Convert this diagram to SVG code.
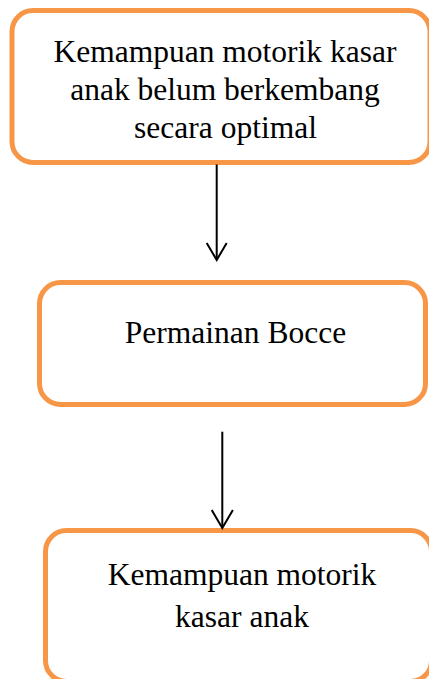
<svg xmlns="http://www.w3.org/2000/svg" width="429" height="679" viewBox="0 0 429 679">
<style>
.box{fill:#ffffff;stroke:#F79646;stroke-width:5}
.t{font-family:"Liberation Serif","Times New Roman",serif;font-size:31.5px;fill:#000;text-anchor:middle}
.ln{fill:none;stroke:#000;stroke-width:2}
</style>
<rect width="429" height="679" fill="#ffffff"/>
<g id="node1">
<rect class="box" x="12" y="10.5" width="418" height="152" rx="21" ry="21"/>
<text class="t" x="225" y="62">Kemampuan motorik kasar</text>
<text class="t" x="225" y="100">anak belum berkembang</text>
<text class="t" x="225.5" y="138">secara optimal</text>
</g>
<g id="node2">
<rect class="box" x="39.5" y="282.5" width="386" height="122" rx="21" ry="21"/>
<text class="t" x="235.5" y="343">Permainan Bocce</text>
</g>
<g id="node3">
<rect class="box" x="45.5" y="530.5" width="386" height="151" rx="21" ry="21"/>
<text class="t" x="242" y="585">Kemampuan motorik</text>
<text class="t" x="242" y="627">kasar anak</text>
</g>
<g id="connectors">
<line class="ln" x1="216.7" y1="164.5" x2="216.7" y2="259"/>
<polyline class="ln" points="206.7,243 216.7,260 226.7,243"/>
<line class="ln" x1="222.3" y1="431.7" x2="222.3" y2="527"/>
<polyline class="ln" points="211.7,510 222.3,528 232.9,510"/>
</g>
</svg>
